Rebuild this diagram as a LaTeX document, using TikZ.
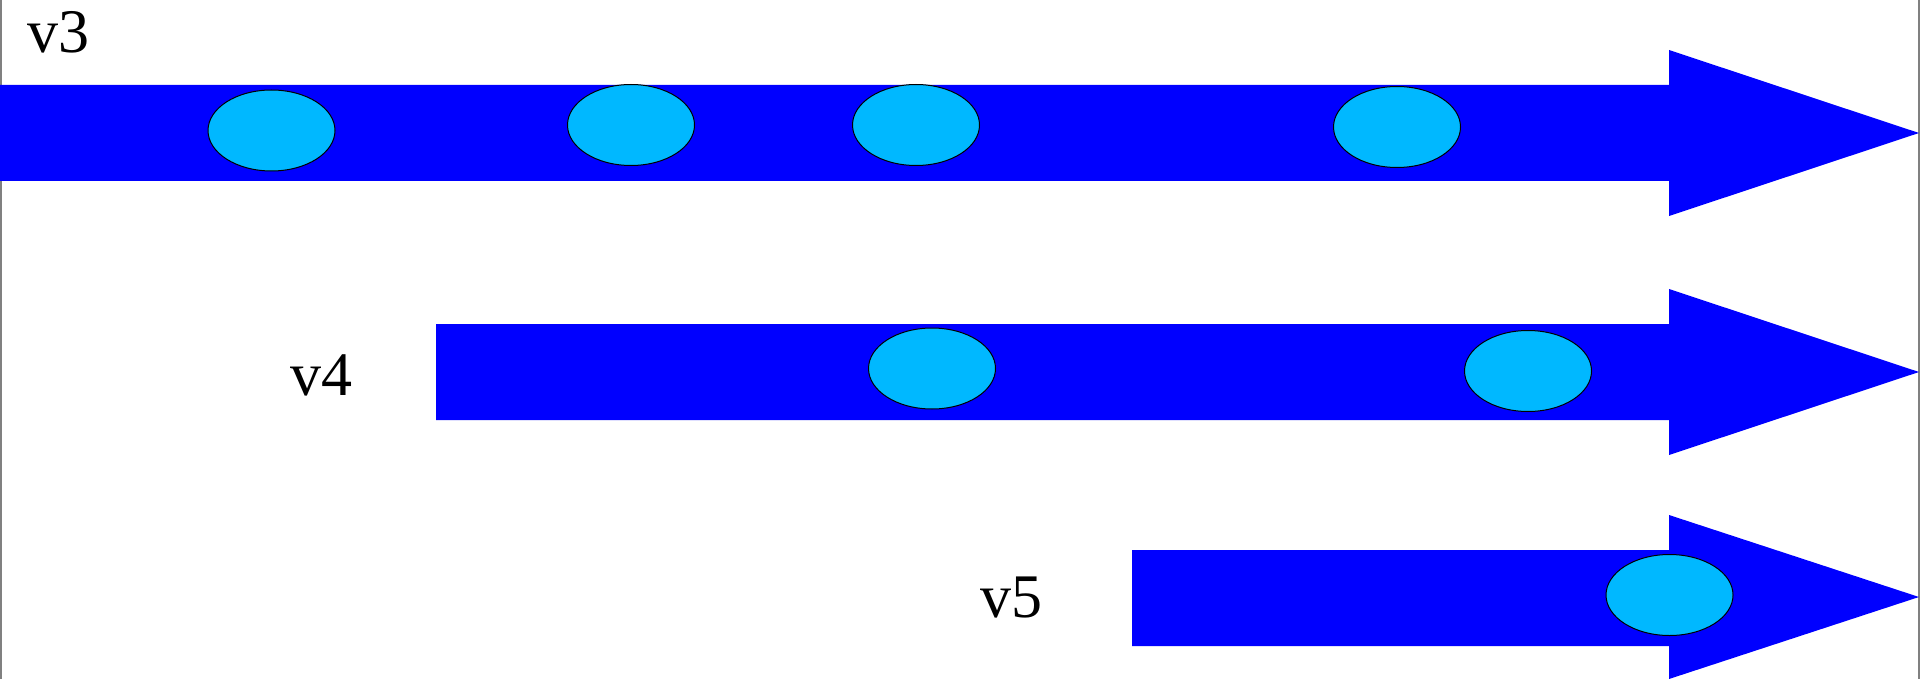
\documentclass[tikz,border=0pt]{standalone}
\usepackage{fontspec}
\setmainfont{Liberation Serif}
\usetikzlibrary{shapes.geometric}
\definecolor{arrowblue}{RGB}{0,0,255}
\definecolor{dotblue}{RGB}{0,184,255}
\tikzset{
  fatarrow/.style={fill=arrowblue, draw=none},
  dot/.style={ellipse, fill=dotblue, draw=black, line width=0.5pt, minimum width=63.5pt, minimum height=40.5pt, inner sep=0pt},
  lbl/.style={anchor=base west, inner sep=0pt, font=\fontsize{31}{37}\selectfont},
  edge/.style={draw=gray, line width=1pt}
}
\begin{document}
\begin{tikzpicture}[x=0.5pt, y=-0.5pt]
\useasboundingbox (0,0) rectangle (1920,679);
% borders
\draw[edge] (1,0) -- (1,679);
\draw[edge] (1918.5,0) -- (1918.5,679);
% arrows
\fill[fatarrow] (0,85) -- (1669,85) -- (1669,50) -- (1919,133) -- (1669,216) -- (1669,181) -- (0,181) -- cycle;
\fill[fatarrow] (436,324) -- (1669,324) -- (1669,289) -- (1919,372) -- (1669,455) -- (1669,420) -- (436,420) -- cycle;
\fill[fatarrow] (1132,550) -- (1669,550) -- (1669,515) -- (1919,597) -- (1669,679) -- (1669,646) -- (1132,646) -- cycle;
% dots
\node[dot] (a1) at (271.5,130.5) {};
\node[dot] (a2) at (631,125) {};
\node[dot] (a3) at (916,125) {};
\node[dot] (a4) at (1397,127) {};
\node[dot] (b1) at (932,368.5) {};
\node[dot] (b2) at (1528,371) {};
\node[dot] (c1) at (1669.5,595) {};
% labels
\node[lbl] (l3) at (27,53) {v3};
\node[lbl] (l4) at (290,395.5) {v4};
\node[lbl] (l5) at (980,617) {v5};
\end{tikzpicture}
\end{document}
